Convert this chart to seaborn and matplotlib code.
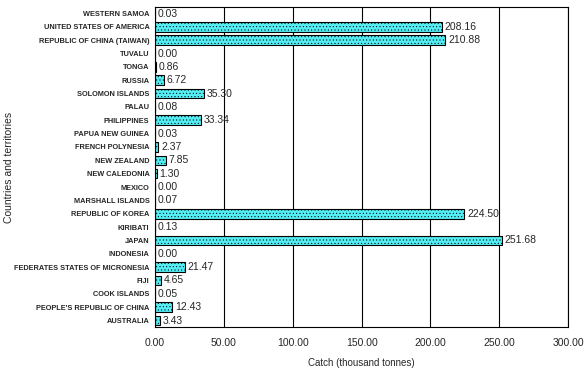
import pandas as pd
import matplotlib
matplotlib.use("Agg")
import matplotlib.pyplot as plt
import seaborn as sns

# Catch by country, top-to-bottom as in the chart
countries = [
    "WESTERN SAMOA", "UNITED STATES OF AMERICA", "REPUBLIC OF CHINA (TAIWAN)",
    "TUVALU", "TONGA", "RUSSIA", "SOLOMON ISLANDS", "PALAU", "PHILIPPINES",
    "PAPUA NEW GUINEA", "FRENCH POLYNESIA", "NEW ZEALAND", "NEW CALEDONIA",
    "MEXICO", "MARSHALL ISLANDS", "REPUBLIC OF KOREA", "KIRIBATI", "JAPAN",
    "INDONESIA", "FEDERATES STATES OF MICRONESIA", "FIJI", "COOK ISLANDS",
    "PEOPLE'S REPUBLIC OF CHINA", "AUSTRALIA",
]
catch = [
    0.03, 208.16, 210.88, 0.00, 0.86, 6.72, 35.30, 0.08, 33.34, 0.03, 2.37,
    7.85, 1.30, 0.00, 0.07, 224.50, 0.13, 251.68, 0.00, 21.47, 4.65, 0.05,
    12.43, 3.43,
]
xticks = [0, 50, 100, 150, 200, 250, 300]

df = pd.DataFrame({"country": countries, "catch": catch})

sns.set_style("white")
plt.rcParams["font.family"] = ["Liberation Sans", "DejaVu Sans"]
plt.rcParams["hatch.linewidth"] = 0.35

fig = plt.figure(figsize=(5.87, 3.80), dpi=100)
ax = fig.add_axes([0.264, 0.139, 0.704, 0.843])

sns.barplot(data=df, y="country", x="catch", orient="h", color="#52eef4",
            width=0.72, saturation=1, ax=ax)
for p in ax.patches:
    p.set_edgecolor("black")
    p.set_linewidth(0.8)
    p.set_hatch(".....")

for p, v in zip(ax.patches, catch):
    ax.text(p.get_width() + 2, p.get_y() + p.get_height() / 2, f"{v:.2f}",
            va="center", ha="left", fontsize=7.5)

ax.set_xlim(0, 300)
ax.set_xticks(xticks)
ax.set_xticklabels([f"{t:.2f}" for t in xticks], fontsize=7.5)
ax.grid(axis="x", color="black", linewidth=0.8)
ax.set_axisbelow(True)
ax.tick_params(axis="x", direction="out", length=3, width=0.8, color="black", pad=5)
ax.tick_params(axis="y", length=0, pad=4)
for lab in ax.get_yticklabels():
    lab.set_fontsize(5.3)
    lab.set_fontweight("bold")
for s in ax.spines.values():
    s.set_color("black")
    s.set_linewidth(0.8)

ax.set_xlabel("Catch (thousand tonnes)", fontsize=7, labelpad=7)
ax.set_ylabel("Countries and territories", fontsize=7.5)
ax.yaxis.set_label_coords(-0.342, 0.5)

fig.savefig("out.png", dpi=100)
